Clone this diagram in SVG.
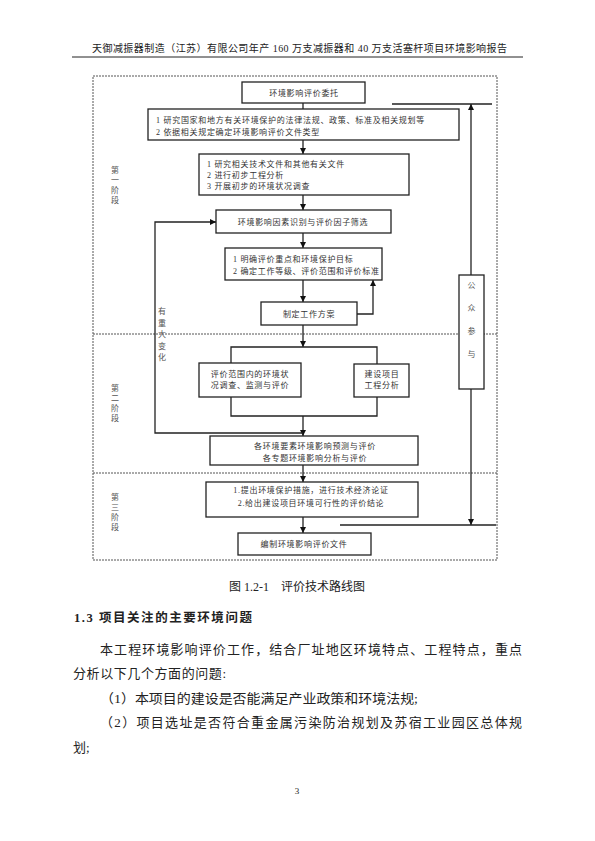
<svg xmlns="http://www.w3.org/2000/svg" width="595" height="841" viewBox="0 0 595 841">
<defs>
<marker id="ah" viewBox="0 0 6 6" refX="6" refY="3" markerWidth="6" markerHeight="6" markerUnits="userSpaceOnUse" orient="auto">
<path d="M0,0 L6,3 L0,6 z" fill="#111"/>
</marker>
<style>
.bx{fill:#fff;stroke:#222;stroke-width:1.3}
.ln{fill:none;stroke:#222;stroke-width:1.3}
.dash{fill:none;stroke:#555;stroke-width:1;stroke-dasharray:2,1}
.t{font-family:"Liberation Serif","Noto Sans CJK SC",serif;font-size:8px;fill:#333;letter-spacing:0.7px}
.c{text-anchor:middle}
.st{font-family:"Liberation Serif","Noto Sans CJK SC",serif;font-size:8px;fill:#555;text-anchor:middle}
.doc{font-family:"Liberation Serif","Noto Sans CJK SC",serif;fill:#222}
</style>
</defs>
<rect width="595" height="841" fill="#fff"/>

<g id="header">
<text class="doc" x="92" y="52" font-size="10" textLength="415" lengthAdjust="spacing">天御减振器制造（江苏）有限公司年产 160 万支减振器和 40 万支活塞杆项目环境影响报告</text>
<line x1="72" y1="57" x2="523" y2="57" stroke="#222" stroke-width="1"/>
</g>

<g id="frame">
<rect class="dash" x="93" y="76" width="404" height="484"/>
<line class="dash" x1="93" y1="334" x2="497" y2="334"/>
<line class="dash" x1="93" y1="473" x2="497" y2="473"/>
</g>

<g id="stages">
<text class="st"><tspan x="115" y="173">第</tspan><tspan x="115" y="183">一</tspan><tspan x="115" y="193">阶</tspan><tspan x="115" y="203">段</tspan></text>
<text class="st"><tspan x="115" y="391">第</tspan><tspan x="115" y="401">二</tspan><tspan x="115" y="411">阶</tspan><tspan x="115" y="421">段</tspan></text>
<text class="st"><tspan x="115" y="500">第</tspan><tspan x="115" y="510">三</tspan><tspan x="115" y="520">阶</tspan><tspan x="115" y="530">段</tspan></text>
</g>

<g id="connectors">
<line class="ln" x1="303" y1="103" x2="303" y2="109"/>
<line class="ln" x1="303" y1="140" x2="303" y2="154" marker-end="url(#ah)"/>
<line class="ln" x1="303" y1="195" x2="303" y2="210" marker-end="url(#ah)"/>
<line class="ln" x1="303" y1="233" x2="303" y2="248" marker-end="url(#ah)"/>
<line class="ln" x1="303" y1="280" x2="303" y2="302" marker-end="url(#ah)"/>
<line class="ln" x1="303" y1="325" x2="303" y2="347" marker-end="url(#ah)"/>
<line class="ln" x1="303" y1="416" x2="303" y2="436" marker-end="url(#ah)"/>
<line class="ln" x1="303" y1="465" x2="303" y2="482" marker-end="url(#ah)"/>
<line class="ln" x1="303" y1="517" x2="303" y2="533" marker-end="url(#ah)"/>
<polyline class="ln" points="303,433 155,433 155,222 216,222" marker-end="url(#ah)"/>
<polyline class="ln" points="357,314 373,314 373,280" marker-end="url(#ah)"/>
<polyline class="ln" points="231,363 231,347 377,347 377,364"/>
<polyline class="ln" points="231,397 231,416 377,416 377,397"/>
<line class="ln" x1="392" y1="104" x2="492" y2="104"/>
<line class="ln" x1="471" y1="275" x2="471" y2="104" marker-end="url(#ah)"/>
<line class="ln" x1="471" y1="389" x2="471" y2="525" marker-end="url(#ah)"/>
<line class="ln" x1="340" y1="525" x2="496" y2="525"/>
</g>

<g id="change-label">
<text class="st" font-size="9"><tspan x="162" y="314">有</tspan><tspan x="162" y="325.5">重</tspan><tspan x="162" y="337">大</tspan><tspan x="162" y="348.5">变</tspan><tspan x="162" y="360">化</tspan></text>
</g>

<g id="n1">
<rect class="bx" x="242" y="82" width="123" height="21"/>
<text class="t c" x="304" y="95.5">环境影响评价委托</text>
</g>
<g id="n2">
<rect class="bx" x="148" y="109" width="311" height="31"/>
<text class="t" x="156" y="122.5" textLength="269" lengthAdjust="spacing">1 研究国家和地方有关环境保护的法律法规、政策、标准及相关规划等</text>
<text class="t" x="156" y="134.5">2 依据相关规定确定环境影响评价文件类型</text>
</g>
<g id="n3">
<rect class="bx" x="199" y="154" width="210" height="41"/>
<text class="t" x="207" y="167">1 研究相关技术文件和其他有关文件</text>
<text class="t" x="207" y="178">2 进行初步工程分析</text>
<text class="t" x="207" y="189">3 开展初步的环境状况调查</text>
</g>
<g id="n4">
<rect class="bx" x="216" y="210" width="175" height="23"/>
<text class="t c" x="303" y="224.5">环境影响因素识别与评价因子筛选</text>
</g>
<g id="n5">
<rect class="bx" x="225" y="248" width="157" height="32"/>
<text class="t" x="233" y="262">1 明确评价重点和环境保护目标</text>
<text class="t" x="233" y="274">2 确定工作等级、评价范围和评价标准</text>
</g>
<g id="n6">
<rect class="bx" x="261" y="302" width="96" height="23"/>
<text class="t c" x="309" y="316.5">制定工作方案</text>
</g>
<g id="n7">
<rect class="bx" x="199" y="363" width="102" height="34"/>
<text class="t c" x="250" y="377">评价范围内的环境状</text>
<text class="t c" x="250" y="388">况调查、监测与评价</text>
</g>
<g id="n8">
<rect class="bx" x="354" y="364" width="55" height="33"/>
<text class="t c" x="382" y="377">建设项目</text>
<text class="t c" x="382" y="388">工程分析</text>
</g>
<g id="n9">
<rect class="bx" x="210" y="436" width="208" height="29"/>
<text class="t c" x="315" y="449">各环境要素环境影响预测与评价</text>
<text class="t c" x="315" y="461">各专题环境影响分析与评价</text>
</g>
<g id="n10">
<rect class="bx" x="206" y="482" width="212" height="35"/>
<text class="t c" x="311" y="493">1.提出环境保护措施，进行技术经济论证</text>
<text class="t c" x="311" y="506">2.给出建设项目环境可行性的评价结论</text>
</g>
<g id="n11">
<rect class="bx" x="238" y="533" width="133" height="22"/>
<text class="t c" x="304" y="547">编制环境影响评价文件</text>
</g>
<g id="n12">
<rect class="bx" x="459" y="275" width="25" height="114"/>
<text class="st" font-size="9" fill="#333"><tspan x="471.5" y="288">公</tspan><tspan x="471.5" y="311">众</tspan><tspan x="471.5" y="334">参</tspan><tspan x="471.5" y="357">与</tspan></text>
</g>

<g id="body">
<text class="doc" x="297" y="591" font-size="12" text-anchor="middle">图 1.2-1　评价技术路线图</text>
<text class="doc" x="74" y="622" font-size="12.5" font-weight="bold" textLength="178" lengthAdjust="spacing">1.3 项目关注的主要环境问题</text>
<text class="doc" x="100" y="654" font-size="13" textLength="422" lengthAdjust="spacing">本工程环境影响评价工作，结合厂址地区环境特点、工程特点，重点</text>
<text class="doc" x="73" y="678" font-size="13" textLength="153" lengthAdjust="spacing">分析以下几个方面的问题:</text>
<text class="doc" x="100" y="703" font-size="13" textLength="318" lengthAdjust="spacingAndGlyphs">（1）本项目的建设是否能满足产业政策和环境法规;</text>
<text class="doc" x="100" y="727" font-size="13" textLength="422" lengthAdjust="spacing">（2）项目选址是否符合重金属污染防治规划及苏宿工业园区总体规</text>
<text class="doc" x="73" y="752" font-size="13">划;</text>
<text class="doc" x="297" y="794" font-size="9" text-anchor="middle">3</text>
</g>
</svg>
